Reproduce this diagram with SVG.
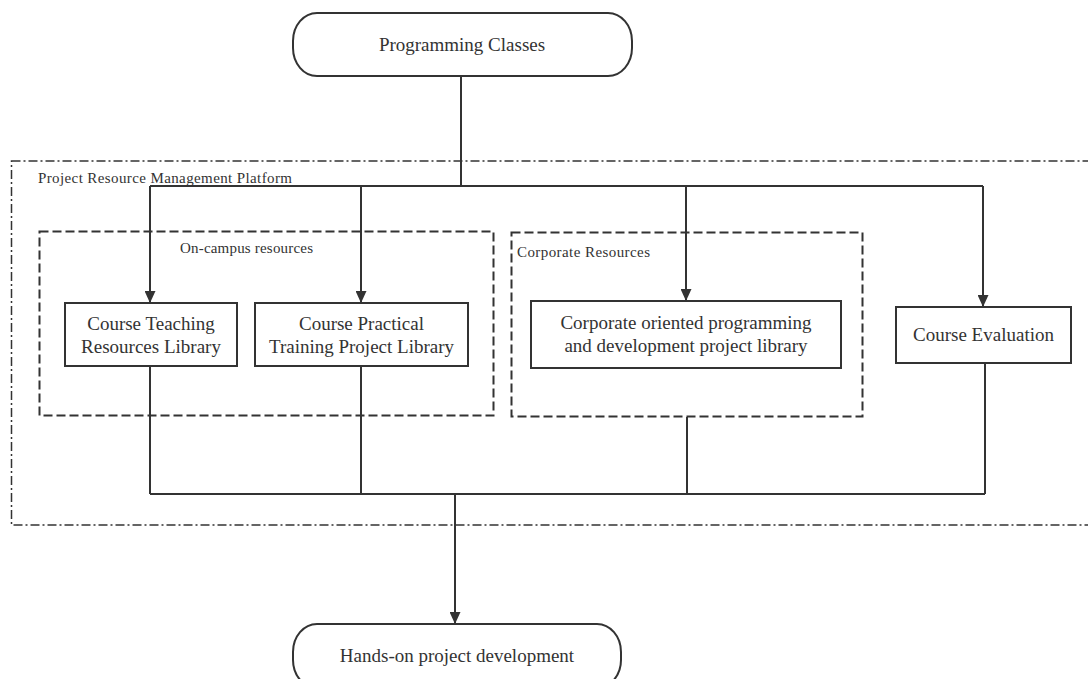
<svg xmlns="http://www.w3.org/2000/svg" width="1088" height="679" viewBox="0 0 1088 679">
<defs>
<marker id="arr" markerWidth="12" markerHeight="11" refX="12" refY="5.5" orient="auto" markerUnits="userSpaceOnUse">
<path d="M0,0 L12,5.5 L0,11 Z" fill="#333"/>
</marker>
<style>
.t{font-family:"Liberation Serif","Times New Roman",serif;font-size:19px;fill:#333;text-anchor:middle}
.s{font-family:"Liberation Serif","Times New Roman",serif;font-size:15px;fill:#333}
.n{fill:#fff;stroke:#333;stroke-width:2}
.c{fill:none;stroke:#333;stroke-width:2}
.d{fill:none;stroke:#333;stroke-width:2;stroke-dasharray:9,4}
.dd{fill:none;stroke:#333;stroke-width:1.5;stroke-dasharray:9,3,2,3}
</style>
</defs>
<rect width="1088" height="679" fill="#fff"/>
<g id="platform">
<rect class="dd" x="11.5" y="161" width="1090" height="364"/>
<text class="s" x="38" y="183" textLength="254" lengthAdjust="spacing">Project Resource Management Platform</text>
</g>
<g id="oncampus">
<rect class="d" x="39.5" y="231.5" width="454" height="184"/>
<text class="s" x="180" y="253" textLength="133" lengthAdjust="spacing">On-campus resources</text>
</g>
<g id="corporate-group">
<rect class="d" x="511.5" y="232.5" width="351" height="184"/>
<text class="s" x="517" y="257" textLength="133" lengthAdjust="spacing">Corporate Resources</text>
</g>
<g id="connectors">
<path class="c" d="M461,76 V186"/>
<path class="c" d="M150,186 H983"/>
<path class="c" d="M150,186 V303" marker-end="url(#arr)"/>
<path class="c" d="M361,186 V303" marker-end="url(#arr)"/>
<path class="c" d="M686,186 V301" marker-end="url(#arr)"/>
<path class="c" d="M983,186 V307" marker-end="url(#arr)"/>
<path class="c" d="M150,366 V494"/>
<path class="c" d="M361,366 V494"/>
<path class="c" d="M687,417 V494"/>
<path class="c" d="M985,363 V494"/>
<path class="c" d="M150,494 H985" stroke-width="2.5"/>
<path class="c" d="M455,494 V624" marker-end="url(#arr)"/>
</g>
<g id="programming-classes">
<rect class="n" x="293" y="13" width="339" height="63" rx="24" ry="28"/>
<text class="t" x="462" y="51">Programming Classes</text>
</g>
<g id="course-teaching">
<rect class="n" x="65" y="303" width="172" height="63"/>
<text class="t" x="151" y="330">Course Teaching</text>
<text class="t" x="151" y="353">Resources Library</text>
</g>
<g id="course-practical">
<rect class="n" x="255" y="303" width="213" height="63"/>
<text class="t" x="361.5" y="330">Course Practical</text>
<text class="t" x="361.5" y="353">Training Project Library</text>
</g>
<g id="corporate-library">
<rect class="n" x="531" y="301" width="310" height="67"/>
<text class="t" x="686" y="329">Corporate oriented programming</text>
<text class="t" x="686" y="352">and development project library</text>
</g>
<g id="course-evaluation">
<rect class="n" x="896" y="307" width="175" height="56"/>
<text class="t" x="983.5" y="341">Course Evaluation</text>
</g>
<g id="hands-on">
<rect class="n" x="293" y="624" width="328" height="64" rx="24" ry="28"/>
<text class="t" x="457" y="662">Hands-on project development</text>
</g>
</svg>
